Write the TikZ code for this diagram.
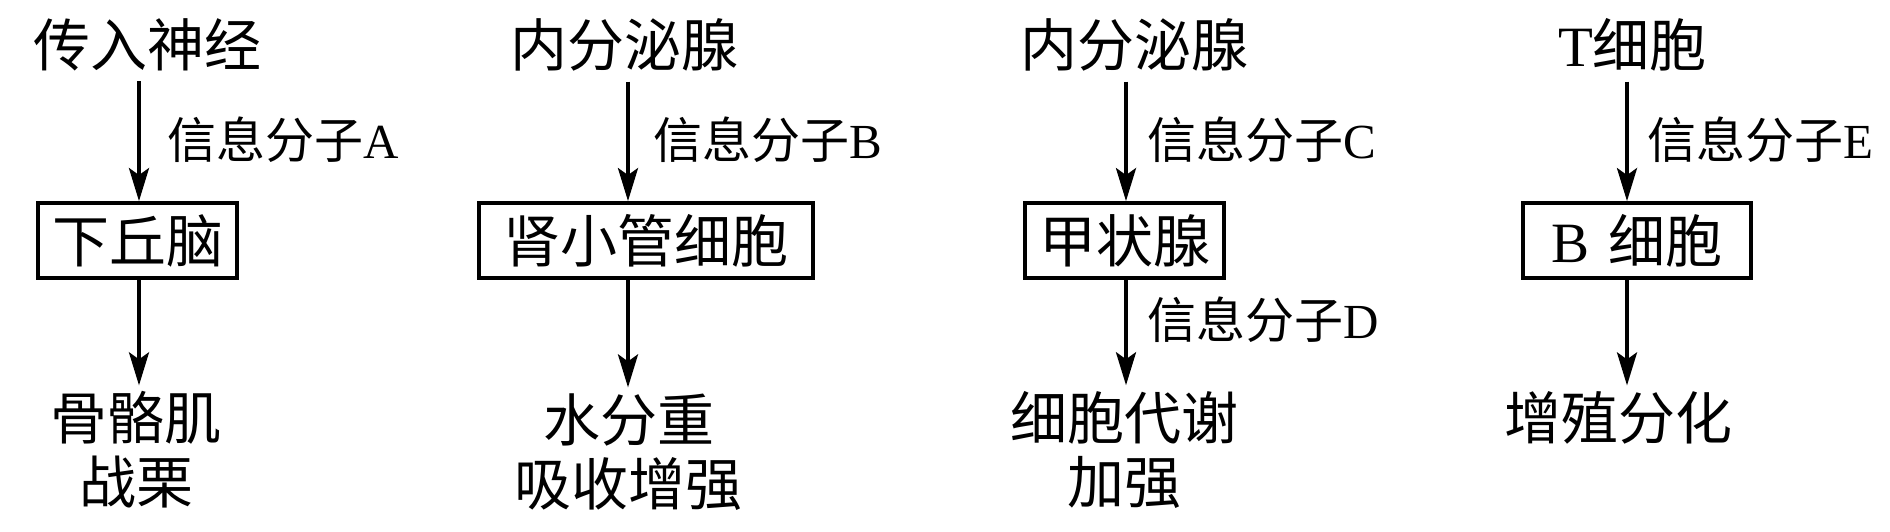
\documentclass[tikz,border=0pt]{standalone}
\usepackage{fontspec}
\setmainfont{Liberation Serif}
\newfontfamily\cjk{Noto Sans CJK SC}
\usetikzlibrary{arrows.meta}
\newcommand{\zh}[1]{{\cjk #1}}
\begin{document}
\begin{tikzpicture}[x=1pt,y=-1pt,
  big/.style={font=\fontsize{57}{64}\selectfont, inner sep=0pt, align=center},
  lab/.style={font=\fontsize{49}{55}\selectfont, inner sep=0pt, anchor=west},
  box/.style={draw, line width=3.8pt, minimum height=75pt, inner sep=0pt, font=\fontsize{57}{64}\selectfont},
  arr/.style={line width=3.8pt, -{Stealth[length=33pt,width=20pt,inset=7pt]}}]
\useasboundingbox (0,0) rectangle (1890,532);
% arrow axes
\coordinate (a1) at (139,0);
\coordinate (a2) at (628,0);
\coordinate (a3) at (1126,0);
\coordinate (a4) at (1627,0);
% top sources
\node[big] (t1) at (147,45) {\zh{传入神经}};
\node[big] (t2) at (624.5,45) {\zh{内分泌腺}};
\node[big] (t3) at (1134.5,45) {\zh{内分泌腺}};
\node[big] (t4) at (1632.5,45) {T\zh{细胞}};
% boxes
\node[box, minimum width=199pt] (b1) at (137.5,240.5) {\zh{下丘脑}};
\node[box, minimum width=334pt] (b2) at (646,240.5) {\zh{肾小管细胞}\hspace{14pt}};
\node[box, minimum width=199pt] (b3) at (1124.5,240.5) {\zh{甲状腺}};
\node[box, minimum width=228pt] (b4) at (1637,240.5) {B\hspace{0.33em}\zh{细胞}};
% results
\node[big] (m1) at (136,450) {\zh{骨骼肌}\\\zh{战栗}};
\node[big] (m2) at (628.5,452) {\zh{水分重}\\\zh{吸收增强}};
\node[big] (m3) at (1124,450) {\zh{细胞代谢}\\\zh{加强}};
\node[big] (m4) at (1618,418) {\zh{增殖分化}};
% arrows
\draw[arr, shorten <=10pt] (t1.south -| a1) -- (b1.north -| a1);
\draw[arr, shorten <=10pt] (t2.south -| a2) -- (b2.north -| a2);
\draw[arr, shorten <=10pt] (t3.south -| a3) -- (b3.north -| a3);
\draw[arr, shorten <=10pt] (t4.south -| a4) -- (b4.north -| a4);
\draw[arr, shorten >=6pt] (b1.south -| a1) -- (m1.north -| a1);
\draw[arr, shorten >=6pt] (b2.south -| a2) -- (m2.north -| a2);
\draw[arr, shorten >=6pt] (b3.south -| a3) -- (m3.north -| a3);
\draw[arr, shorten >=6pt] (b4.south -| a4) -- (m4.north -| a4);
% labels
\node[lab] (l1) at (167,140) {\zh{信息分子}A};
\node[lab] (l2) at (653,140) {\zh{信息分子}B};
\node[lab] (l3) at (1147,140) {\zh{信息分子}C};
\node[lab] (l4) at (1647,140) {\zh{信息分子}E};
\node[lab] (l5) at (1147,320) {\zh{信息分子}D};
\end{tikzpicture}
\end{document}
